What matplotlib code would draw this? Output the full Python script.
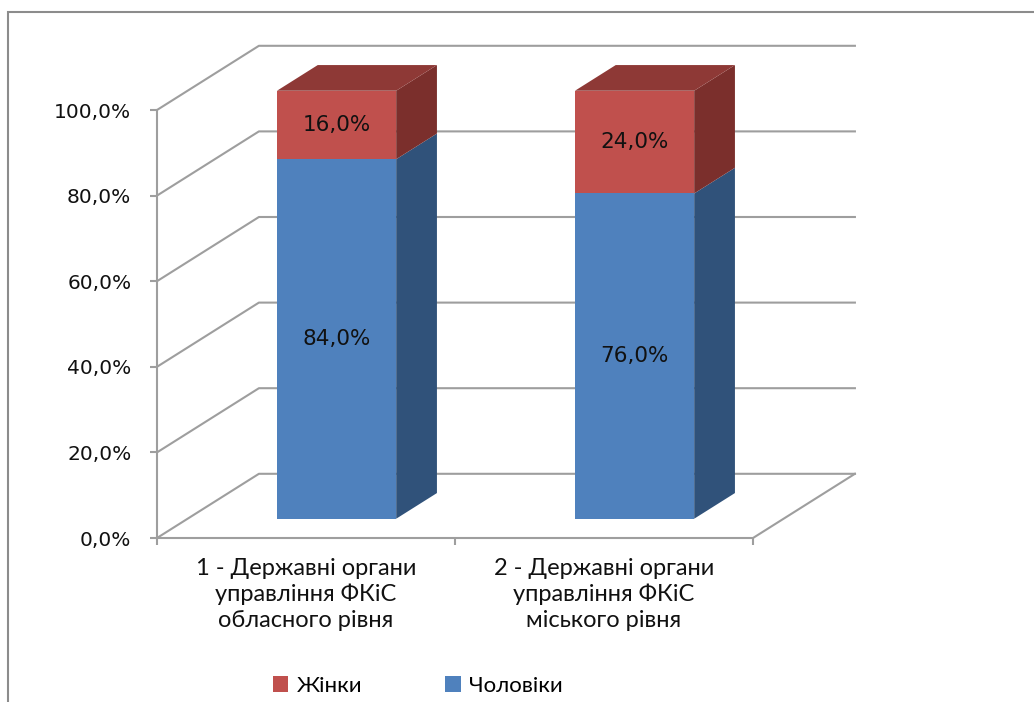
"""
Stacked 3D-style column chart: gender split in sport management bodies.
"""

import matplotlib
matplotlib.use("Agg")
import matplotlib.pyplot as plt
from matplotlib.patches import Polygon, Rectangle, Patch

# data
categories = ["1 - Державні органи\nуправління ФКіС\nобласного рівня",
              "2 - Державні органи\nуправління ФКіС\nміського рівня"]
men = [84.0, 76.0]
women = [16.0, 24.0]
series_names = ["Жінки", "Чоловіки"]
y_ticks = [0, 20, 40, 60, 80, 100]

# colours (front, top, side)
red = ("#C0504D", "#8E3936", "#7B2F2C")
blue = ("#4F81BD", "#3A6494", "#30527A")
grid_color = "#9E9E9E"

# oblique projection of depth (z in 0..1) onto the axes
DX, DY = 0.342, 15.0
BAR_W = 0.4
Z0, Z1 = 0.3, 0.7


def proj(x, y, z):
    return (x + z * DX, y + z * DY)


def draw_segment(ax, xc, y0, y1, colors, top=False):
    x0, x1 = xc - BAR_W / 2, xc + BAR_W / 2
    side = [proj(x1, y0, Z0), proj(x1, y0, Z1), proj(x1, y1, Z1), proj(x1, y1, Z0)]
    ax.add_patch(Polygon(side, closed=True, fc=colors[2], ec="none", clip_on=False, zorder=3))
    if top:
        lid = [proj(x0, y1, Z0), proj(x1, y1, Z0), proj(x1, y1, Z1), proj(x0, y1, Z1)]
        ax.add_patch(Polygon(lid, closed=True, fc=colors[1], ec="none", clip_on=False, zorder=3))
    front = [proj(x0, y0, Z0), proj(x1, y0, Z0), proj(x1, y1, Z0), proj(x0, y1, Z0)]
    ax.add_patch(Polygon(front, closed=True, fc=colors[0], ec="none", clip_on=False, zorder=4))


fig = plt.figure(figsize=(10.34, 7.02), dpi=100)
fig.patches.append(Rectangle((8 / 1034, -0.1), 1.2, 1.1 - 12 / 702,
                             transform=fig.transFigure, fill=False,
                             ec="#8C8C8C", lw=1.5))

ax = fig.add_axes([157 / 1034, 164 / 702, 596 / 1034, 428 / 702])
ax.set_xlim(0, 2)
ax.set_ylim(0, 100)
for s in ax.spines.values():
    s.set_visible(False)

# walls and floor
for t in y_ticks:
    xs, ys = zip(proj(0, t, 0), proj(0, t, 1), proj(2, t, 1))
    ax.plot(xs, ys, color=grid_color, lw=1.5, clip_on=False, zorder=1)
xs, ys = zip(proj(0, 0, 0), proj(2, 0, 0), proj(2, 0, 1))
ax.plot(xs, ys, color=grid_color, lw=1.5, clip_on=False, zorder=1)
ax.plot([0, 0], [0, 100], color=grid_color, lw=1.5, clip_on=False, zorder=1)

# bars
for i, (m, w) in enumerate(zip(men, women)):
    xc = i + 0.5
    draw_segment(ax, xc, 0, m, blue)
    draw_segment(ax, xc, m, m + w, red, top=True)
    fx, _ = proj(xc, 0, Z0)
    ax.text(fx, m / 2 + Z0 * DY, f"{m:.1f}%".replace(".", ","), ha="center", va="center",
            fontsize=15.5, color="#111111", zorder=5)
    ax.text(fx, m + w / 2 + Z0 * DY, f"{w:.1f}%".replace(".", ","), ha="center", va="center",
            fontsize=15.5, color="#111111", zorder=5)

# axes ticks
ax.set_yticks(y_ticks)
ax.set_yticklabels([f"{t:.1f}%".replace(".", ",") for t in y_ticks], fontsize=14.5,
                   color="#111111")
ax.set_xticks([0, 1, 2])
ax.set_xticklabels([])
ax.tick_params(axis="y", length=5, width=1.5, color=grid_color, pad=13.5)
ax.tick_params(axis="x", length=5, width=1.5, color=grid_color)

for i, lab in enumerate(categories):
    ax.text(i + 0.5, -4.6, lab, ha="center", va="top", fontsize=17,
            family="Lato", linespacing=1.27, color="#111111")

handles = [Patch(fc=red[0], ec="none"), Patch(fc=blue[0], ec="none")]
fig.legend(handles, series_names, loc="center", bbox_to_anchor=(418 / 1034, 1 - 686 / 702),
           ncol=2, frameon=False, handlelength=0.7, handleheight=0.7, handletextpad=0.4,
           columnspacing=3.7, prop={"family": "Lato", "size": 16})

fig.savefig("out.png", dpi=100)
